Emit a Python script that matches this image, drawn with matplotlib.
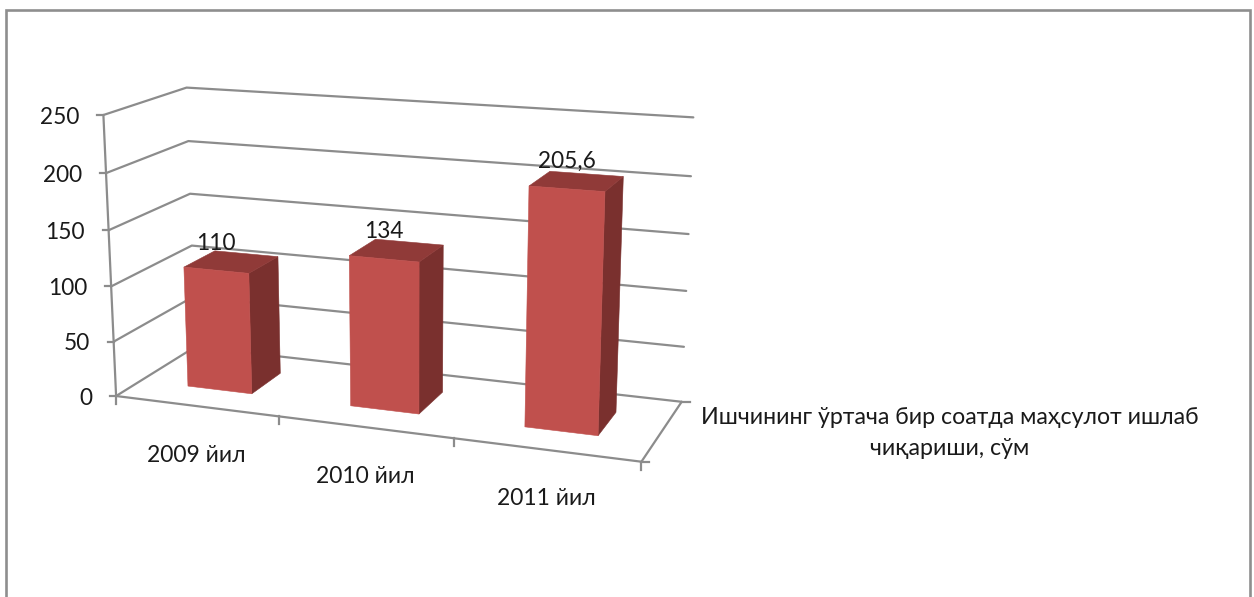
# 3D-style column chart (Excel look), drawn on a pixel-sized axes through a
# small perspective projection fitted to the corners of the chart box.
import numpy as np
import matplotlib
matplotlib.use("Agg")
import matplotlib.pyplot as plt

categories = ["2009 йил", "2010 йил", "2011 йил"]
values = [110, 134, 205.6]
value_labels = ["110", "134", "205,6"]
y_ticks = [0, 50, 100, 150, 200, 250]
series_label = "Ишчининг ўртача бир соатда маҳсулот ишлаб\nчиқариши, сўм"

Y_MAX = 250
BAR_SHARE = 0.4   # gap width / gap depth 150 %

FRONT_FACE = "#C0504D"
SIDE_FACE = "#7A302E"
TOP_FACE = "#903A38"
GRID = "#8C8C8C"
TEXT = "#1A1A1A"

plt.rcParams["font.family"] = ["Lato", "Open Sans", "DejaVu Sans"]

# box corners: (category pos, value, depth) -> picture pixel
anchors = [
    ((0, 0, 0), (116.7, 396.7)),
    ((0, 250, 0), (103.3, 115.0)),
    ((0, 0, 1), (195.0, 347.0)),
    ((0, 250, 1), (186.7, 87.3)),
    ((3, 0, 1), (681.7, 401.7)),
    ((3, 250, 1), (693.3, 117.7)),
    ((3, 0, 0), (641.7, 461.7)),
    ((1, 0, 0), (278.3, 415.7)),
]

# fit the 3x4 projection matrix (last entry fixed to 1)
rows, rhs = [], []
for (u, v, w), (px, py) in anchors:
    v = v / Y_MAX
    rows.append([u, v, w, 1, 0, 0, 0, 0, -px*u, -px*v, -px*w])
    rows.append([0, 0, 0, 0, u, v, w, 1, -py*u, -py*v, -py*w])
    rhs += [px, py]
sol = np.linalg.lstsq(np.array(rows, float), np.array(rhs, float), rcond=None)[0]
P = np.append(sol, 1.0).reshape(3, 4)


def proj(u, v, w):
    x, y, s = P @ np.array([u, v / Y_MAX, w, 1.0])
    return x / s, y / s


def line3d(ax, pts, lw=1.6):
    xy = [proj(*p) for p in pts]
    ax.plot([q[0] for q in xy], [q[1] for q in xy], color=GRID, lw=lw,
            solid_capstyle="round", solid_joinstyle="round", zorder=2)


def tick(ax, pt, dx, dy):
    x, y = proj(*pt)
    ax.plot([x, x + dx], [y, y + dy], color=GRID, lw=1.6, zorder=2)


fig = plt.figure(figsize=(12.54, 5.97), dpi=100)
ax = fig.add_axes([0, 0, 1, 1])
ax.set_xlim(0, 1254)
ax.set_ylim(597, 0)
ax.axis("off")

# outer chart border, bottom is cut off in the source
ax.plot([6.3, 6.3, 1249.7, 1249.7], [597, 10, 10, 597], color="#8E8E8E", lw=1.9,
        solid_joinstyle="miter", zorder=1)

# walls
n_cat = len(categories)
for t in y_ticks:
    line3d(ax, [(0, t, 0), (0, t, 1), (n_cat, t, 1)])
    tick(ax, (0, t, 0), -6, 0)
    x, y = proj(0, t, 0)
    ax.text(x - 24, y + 2, str(t), ha="right", va="center", fontsize=16.3, color=TEXT)

# floor and axes
line3d(ax, [(0, 0, 0), (0, Y_MAX, 0)])
line3d(ax, [(0, 0, 0), (n_cat, 0, 0), (n_cat, 0, 1)])
for i in range(n_cat + 1):
    tick(ax, (i, 0, 0), 0, 8)
tick(ax, (n_cat, 0, 0), 8, 0)
tick(ax, (n_cat, 0, 1), 8, 0)

# bars
lo = (1 - BAR_SHARE) / 2
hi = 1 - lo
for i, val in enumerate(values):
    u0, u1 = i + lo, i + hi
    front = [(u0, 0, lo), (u1, 0, lo), (u1, val, lo), (u0, val, lo)]
    side = [(u1, 0, lo), (u1, 0, hi), (u1, val, hi), (u1, val, lo)]
    top = [(u0, val, lo), (u1, val, lo), (u1, val, hi), (u0, val, hi)]
    for face, col in [(side, SIDE_FACE), (top, TOP_FACE), (front, FRONT_FACE)]:
        xy = [proj(*p) for p in face]
        ax.fill([q[0] for q in xy], [q[1] for q in xy], facecolor=col, edgecolor=col,
                lw=0.4, zorder=3)
    x, y = proj(i + 0.5, val, lo)
    ax.text(x, y - 27, value_labels[i], ha="center", va="center", fontsize=16.3,
            color=TEXT, zorder=4)
    x, y = proj(i + 0.5, 0, 0)
    ax.text(x, y + 49, categories[i], ha="center", va="center", fontsize=16.5, color=TEXT)

ax.text(950, 433, series_label, ha="center", va="center", fontsize=16.7, color=TEXT,
        linespacing=1.53)

fig.savefig("out.png", dpi=100, facecolor="white")
